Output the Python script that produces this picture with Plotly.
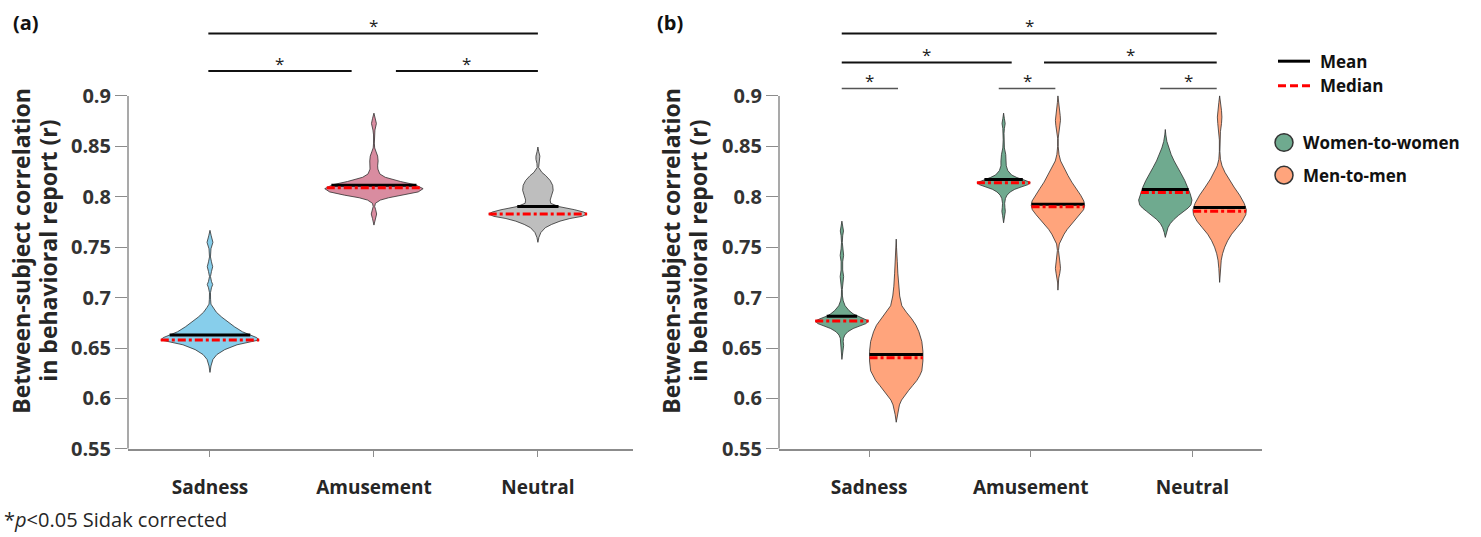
import numpy as np
import plotly.graph_objects as go

W, H = 1481, 537
FONT = "Open Sans"

categories = ["Sadness", "Amusement", "Neutral"]
ytick_vals = [0.55, 0.6, 0.65, 0.7, 0.75, 0.8, 0.85, 0.9]
ytick_text = ["0.55", "0.6", "0.65", "0.7", "0.75", "0.8", "0.85", "0.9"]

# ---------------- Panel (a): density profiles (y value, relative half-width) ----------------
sad_y = [0.6258, 0.6322, 0.6387, 0.6435, 0.6484, 0.6532, 0.6564, 0.6580, 0.6603, 0.6629, 0.6661,
         0.6710, 0.6758, 0.6806, 0.6855, 0.6903, 0.6935, 0.6984, 0.7048, 0.7097, 0.7129, 0.7161,
         0.7209, 0.7258, 0.7306, 0.7355, 0.7403, 0.7484, 0.7548, 0.7613, 0.7667]
sad_d = [0, 0.02, 0.06, 0.14, 0.3, 0.55, 0.85, 1.0, 0.95, 0.82, 0.66,
         0.5, 0.36, 0.24, 0.13, 0.06, 0.02, 0.012, 0.01, 0.03, 0.055, 0.03,
         0.01, 0.03, 0.055, 0.03, 0.01, 0.02, 0.06, 0.025, 0]
sad_mean, sad_median = 0.6629, 0.6580

amu_y = [0.7719, 0.7784, 0.7829, 0.7871, 0.7903, 0.7935, 0.7967, 0.7990, 0.8016, 0.8048, 0.8080,
         0.8119, 0.8151, 0.8193, 0.8226, 0.8274, 0.8306, 0.8355, 0.8403, 0.8451, 0.8484, 0.8532,
         0.8613, 0.8661, 0.8726, 0.8774, 0.8829]
amu_d = [0, 0.03, 0.055, 0.035, 0.015, 0.03, 0.13, 0.3, 0.6, 0.9, 1.0,
         0.84, 0.54, 0.23, 0.12, 0.08, 0.075, 0.085, 0.075, 0.04, 0.015, 0.008,
         0.008, 0.02, 0.05, 0.03, 0]
amu_mean, amu_median = 0.8113, 0.8090

neu_y = [0.7548, 0.7597, 0.7645, 0.7693, 0.7726, 0.7758, 0.7784, 0.7806, 0.7829, 0.7848, 0.7871,
         0.7903, 0.7935, 0.7967, 0.8016, 0.8064, 0.8113, 0.8161, 0.8209, 0.8242, 0.8290, 0.8332,
         0.8371, 0.8403, 0.8451, 0.8493]
neu_d = [0, 0.02, 0.06, 0.15, 0.28, 0.45, 0.65, 0.9, 1.0, 0.93, 0.75,
         0.42, 0.26, 0.25, 0.28, 0.31, 0.3, 0.25, 0.16, 0.08, 0.015, 0.02,
         0.04, 0.04, 0.015, 0]
neu_mean, neu_median = 0.7903, 0.7829

# ---------------- Panel (b): women-to-women (w_) and men-to-men (m_) ----------------
w_sad_y = [0.7758, 0.7709, 0.7661, 0.7613, 0.7548, 0.7484, 0.7419, 0.7355, 0.7274, 0.7209, 0.7145,
           0.7080, 0.7016, 0.6968, 0.6919, 0.6871, 0.6839, 0.6816, 0.6790, 0.6768, 0.6742, 0.6719,
           0.6693, 0.6661, 0.6629, 0.6597, 0.6564, 0.6526, 0.6484, 0.6435, 0.6387]
w_sad_d = [0, 0.03, 0.06, 0.03, 0.015, 0.03, 0.065, 0.03, 0.03, 0.065, 0.03,
           0.015, 0.02, 0.05, 0.12, 0.27, 0.42, 0.57, 0.82, 1.0, 0.9, 0.68,
           0.42, 0.22, 0.11, 0.06, 0.05, 0.065, 0.04, 0.02, 0]
w_sad_mean, w_sad_median = 0.6816, 0.6768

m_sad_y = [0.7580, 0.7500, 0.7419, 0.7355, 0.7242, 0.7113, 0.7016, 0.6919, 0.6855, 0.6790, 0.6726,
           0.6661, 0.6564, 0.6468, 0.6371, 0.6274, 0.6226, 0.6177, 0.6129, 0.6081, 0.6032, 0.5984,
           0.5936, 0.5887, 0.5839, 0.5764]
m_sad_d = [0, 0.01, 0.02, 0.04, 0.06, 0.09, 0.13, 0.21, 0.38, 0.58, 0.74,
           0.85, 0.96, 1.0, 1.0, 0.96, 0.88, 0.77, 0.62, 0.47, 0.32, 0.2,
           0.12, 0.07, 0.04, 0]
m_sad_mean, m_sad_median = 0.6435, 0.6403

w_amu_y = [0.8829, 0.8774, 0.8726, 0.8677, 0.8629, 0.8564, 0.8484, 0.8419, 0.8355, 0.8306, 0.8258,
           0.8216, 0.8190, 0.8171, 0.8151, 0.8139, 0.8119, 0.8096, 0.8074, 0.8048, 0.8016, 0.7984,
           0.7935, 0.7893, 0.7855, 0.7816, 0.7774, 0.7742]
w_amu_d = [0, 0.03, 0.06, 0.03, 0.015, 0.015, 0.03, 0.08, 0.1, 0.1, 0.16,
           0.3, 0.5, 0.72, 0.92, 1.0, 0.9, 0.65, 0.42, 0.25, 0.13, 0.07,
           0.04, 0.05, 0.065, 0.04, 0.015, 0]
w_amu_mean, w_amu_median = 0.8171, 0.8139

m_amu_y = [0.9000, 0.8935, 0.8871, 0.8806, 0.8758, 0.8709, 0.8645, 0.8580, 0.8500, 0.8419, 0.8355,
           0.8290, 0.8209, 0.8145, 0.8080, 0.8016, 0.7958, 0.7913, 0.7871, 0.7822, 0.7774, 0.7726,
           0.7677, 0.7629, 0.7580, 0.7532, 0.7468, 0.7403, 0.7339, 0.7290, 0.7242, 0.7193, 0.7145,
           0.7074]
m_amu_d = [0, 0.02, 0.05, 0.085, 0.095, 0.08, 0.035, 0.01, 0.01, 0.04, 0.1,
           0.22, 0.38, 0.52, 0.68, 0.85, 0.97, 1.0, 0.96, 0.82, 0.66, 0.5,
           0.35, 0.23, 0.13, 0.05, 0.02, 0.04, 0.08, 0.095, 0.07, 0.03, 0.01,
           0]
m_amu_mean, m_amu_median = 0.7926, 0.7900

w_neu_y = [0.8667, 0.8613, 0.8548, 0.8484, 0.8419, 0.8355, 0.8290, 0.8226, 0.8161, 0.8096, 0.8032,
           0.7967, 0.7919, 0.7887, 0.7855, 0.7816, 0.7774, 0.7732, 0.7693, 0.7645, 0.7597]
w_neu_d = [0, 0.02, 0.06, 0.13, 0.22, 0.33, 0.46, 0.6, 0.73, 0.84, 0.93,
           1.0, 0.96, 0.85, 0.7, 0.5, 0.32, 0.18, 0.1, 0.04, 0]
w_neu_mean, w_neu_median = 0.8071, 0.8042

m_neu_y = [0.9000, 0.8935, 0.8855, 0.8790, 0.8726, 0.8645, 0.8564, 0.8451, 0.8371, 0.8306, 0.8242,
           0.8177, 0.8096, 0.8016, 0.7935, 0.7871, 0.7822, 0.7758, 0.7693, 0.7629, 0.7564, 0.7500,
           0.7435, 0.7371, 0.7290, 0.7226, 0.7151]
m_neu_d = [0, 0.03, 0.07, 0.085, 0.07, 0.03, 0.01, 0.01, 0.03, 0.09, 0.2,
           0.34, 0.54, 0.75, 0.92, 1.0, 0.98, 0.85, 0.65, 0.45, 0.3, 0.19,
           0.11, 0.06, 0.03, 0.015, 0]
m_neu_mean, m_neu_median = 0.7893, 0.7855

# significance brackets: (x_start, x_end, y)
sig_a = [(0.99, 3.0, 0.9619), (0.99, 1.864, 0.9248), (2.134, 3.0, 0.9248)]
sig_b = [(0.831, 3.150, 0.9619), (0.831, 1.882, 0.9332), (2.082, 3.150, 0.9332),
         (0.831, 1.179, 0.9074), (1.802, 2.152, 0.9074), (2.800, 3.150, 0.9074)]

legend_lines = ["Mean", "Median"]
legend_groups = ["Women-to-women", "Men-to-men"]
ytitle_lines = ["Between-subject correlation", "in behavioral report (r)"]
footnote = "*<i>p</i>&lt;0.05 Sidak corrected"

# ---------------- styling ----------------
col_a = ["#87CEEB", "#D98CA0", "#BEBEBE"]
col_w, col_m = "#6FAA8F", "#FFA47C"
AX = "#8C8C8C"
TXT = "#262626"
WIDTH_A, WIDTH_B, OFF_B = 0.30, 0.165, 0.168

fig = go.Figure()


def add_violin(xa, ya, c, w, ys, ds, color, mean, median):
    ys = np.asarray(ys, float)
    ds = np.asarray(ds, float)
    o = np.argsort(ys)
    ys, ds = ys[o], ds[o]
    xs = np.concatenate([c + ds * w, (c - ds * w)[::-1]])
    yy = np.concatenate([ys, ys[::-1]])
    fig.add_trace(go.Scatter(x=xs, y=yy, xaxis=xa, yaxis=ya, mode="lines", fill="toself",
                             fillcolor=color, line=dict(color="#303030", width=0.8),
                             hoverinfo="skip", showlegend=False))
    for val, lc, dash in [(mean, "black", "solid"), (median, "#FF0000", "8px,3px,3px,3px")]:
        dv = np.interp(val, ys, ds)
        fig.add_trace(go.Scatter(x=[c - dv * w, c + dv * w], y=[val, val], xaxis=xa, yaxis=ya,
                                 mode="lines", line=dict(color=lc, width=3, dash=dash),
                                 hoverinfo="skip", showlegend=False))


pa = [(sad_y, sad_d, sad_mean, sad_median), (amu_y, amu_d, amu_mean, amu_median),
      (neu_y, neu_d, neu_mean, neu_median)]
for i, (ys, ds, mn, md) in enumerate(pa):
    add_violin("x", "y", i + 1, WIDTH_A, ys, ds, col_a[i], mn, md)

pw = [(w_sad_y, w_sad_d, w_sad_mean, w_sad_median), (w_amu_y, w_amu_d, w_amu_mean, w_amu_median),
      (w_neu_y, w_neu_d, w_neu_mean, w_neu_median)]
pm = [(m_sad_y, m_sad_d, m_sad_mean, m_sad_median), (m_amu_y, m_amu_d, m_amu_mean, m_amu_median),
      (m_neu_y, m_neu_d, m_neu_mean, m_neu_median)]
for i in range(3):
    ys, ds, mn, md = pw[i]
    add_violin("x2", "y2", i + 1 - OFF_B, WIDTH_B, ys, ds, col_w, mn, md)
    ys, ds, mn, md = pm[i]
    add_violin("x2", "y2", i + 1 + OFF_B, WIDTH_B, ys, ds, col_m, mn, md)

shapes = []
annotations = []

# y axis lines only up to 0.9
for xr, yr in [("x domain", "y"), ("x2 domain", "y2")]:
    shapes.append(dict(type="line", xref=xr, yref=yr, x0=0, x1=0, y0=0.55, y1=0.9,
                       line=dict(color=AX, width=1.5)))

# significance brackets
for xr, yr, sigs in [("x", "y", sig_a), ("x2", "y2", sig_b)]:
    for x0, x1, yv in sigs:
        thin = (xr == "x2" and yv < 0.92)
        shapes.append(dict(type="line", xref=xr, yref=yr, x0=x0, x1=x1, y0=yv, y1=yv,
                           line=dict(color="#555555" if thin else "#111111",
                                     width=1.6 if thin else 2)))
        annotations.append(dict(xref=xr, yref=yr, x=(x0 + x1) / 2, y=yv, text="*", showarrow=False,
                                yanchor="bottom", yshift=-6,
                                font=dict(family=FONT, size=17, color="#222222")))

# panel labels
for xl, lab in [(11, "(a)"), (655, "(b)")]:
    annotations.append(dict(xref="paper", yref="paper", x=xl / W, y=1 - 23 / H, text="<b>%s</b>" % lab,
                            showarrow=False, xanchor="left", yanchor="middle",
                            font=dict(family=FONT, size=20, color="#111111")))

# y-axis titles (two separately placed lines for tight line spacing)
for x0 in (21, 671):
    for k, line in enumerate(ytitle_lines):
        annotations.append(dict(xref="paper", yref="paper", x=(x0 + 27 * k) / W, y=1 - 257 / H,
                                text="<b>%s</b>" % line, textangle=-90, showarrow=False,
                                xanchor="center", yanchor="middle",
                                font=dict(family=FONT, size=23, color=TXT)))

# footnote
annotations.append(dict(xref="paper", yref="paper", x=2 / W, y=1 - 532 / H,
                        text=footnote, showarrow=False, xanchor="left", yanchor="middle",
                        font=dict(family=FONT, size=20, color=TXT)))

# legend
shapes.append(dict(type="line", xref="paper", yref="paper", x0=1278 / W, x1=1310 / W,
                   y0=1 - 62.7 / H, y1=1 - 62.7 / H, line=dict(color="black", width=3)))
shapes.append(dict(type="line", xref="paper", yref="paper", x0=1278 / W, x1=1310 / W,
                   y0=1 - 88 / H, y1=1 - 88 / H, line=dict(color="#FF0000", width=3, dash="8px,4px")))
for cy, cc in [(146, col_w), (179.5, col_m)]:
    shapes.append(dict(type="circle", xref="paper", yref="paper", x0=(1284 - 9) / W, x1=(1284 + 9) / W,
                       y0=1 - (cy + 9) / H, y1=1 - (cy - 9) / H, fillcolor=cc,
                       line=dict(color="#333333", width=1.5)))
for tx, ty, t in [(1318, 62.7, legend_lines[0]), (1318, 88, legend_lines[1]),
                  (1301, 146, legend_groups[0]), (1301, 179.5, legend_groups[1])]:
    annotations.append(dict(xref="paper", yref="paper", x=tx / W, y=1 - ty / H, text="<b>%s</b>" % t,
                            showarrow=False, xanchor="left", yanchor="middle",
                            font=dict(family=FONT, size=17, color="#111111")))

common_x = dict(showline=True, linecolor=AX, linewidth=1.5, ticks="outside", ticklen=6, tickcolor=AX,
                tickwidth=1.2, tickvals=[1, 2, 3], ticktext=categories, showgrid=False, zeroline=False,
                ticklabelstandoff=15,
                tickfont=dict(family=FONT, size=19, color=TXT, weight="bold"), fixedrange=True)
common_y = dict(showline=False, ticks="outside", ticklen=12, tickcolor=AX, tickwidth=1.2,
                tickvals=ytick_vals, ticktext=ytick_text, showgrid=False, zeroline=False,
                range=[0.55, 0.9951], domain=[77 / H, 1],
                tickfont=dict(family=FONT, size=20, color="#333333", weight="bold"), fixedrange=True)

fig.update_layout(
    width=W, height=H, margin=dict(l=0, r=0, t=0, b=0),
    paper_bgcolor="white", plot_bgcolor="white", showlegend=False,
    xaxis=dict(domain=[128 / W, 633 / W], range=[0.5, 3.58], anchor="y", **common_x),
    yaxis=dict(anchor="x", **common_y),
    xaxis2=dict(domain=[779 / W, 1262 / W], range=[0.443, 3.43], anchor="y2", **common_x),
    yaxis2=dict(anchor="x2", **common_y),
    shapes=shapes, annotations=annotations,
    font=dict(family=FONT),
)

fig.write_html("out.html")
